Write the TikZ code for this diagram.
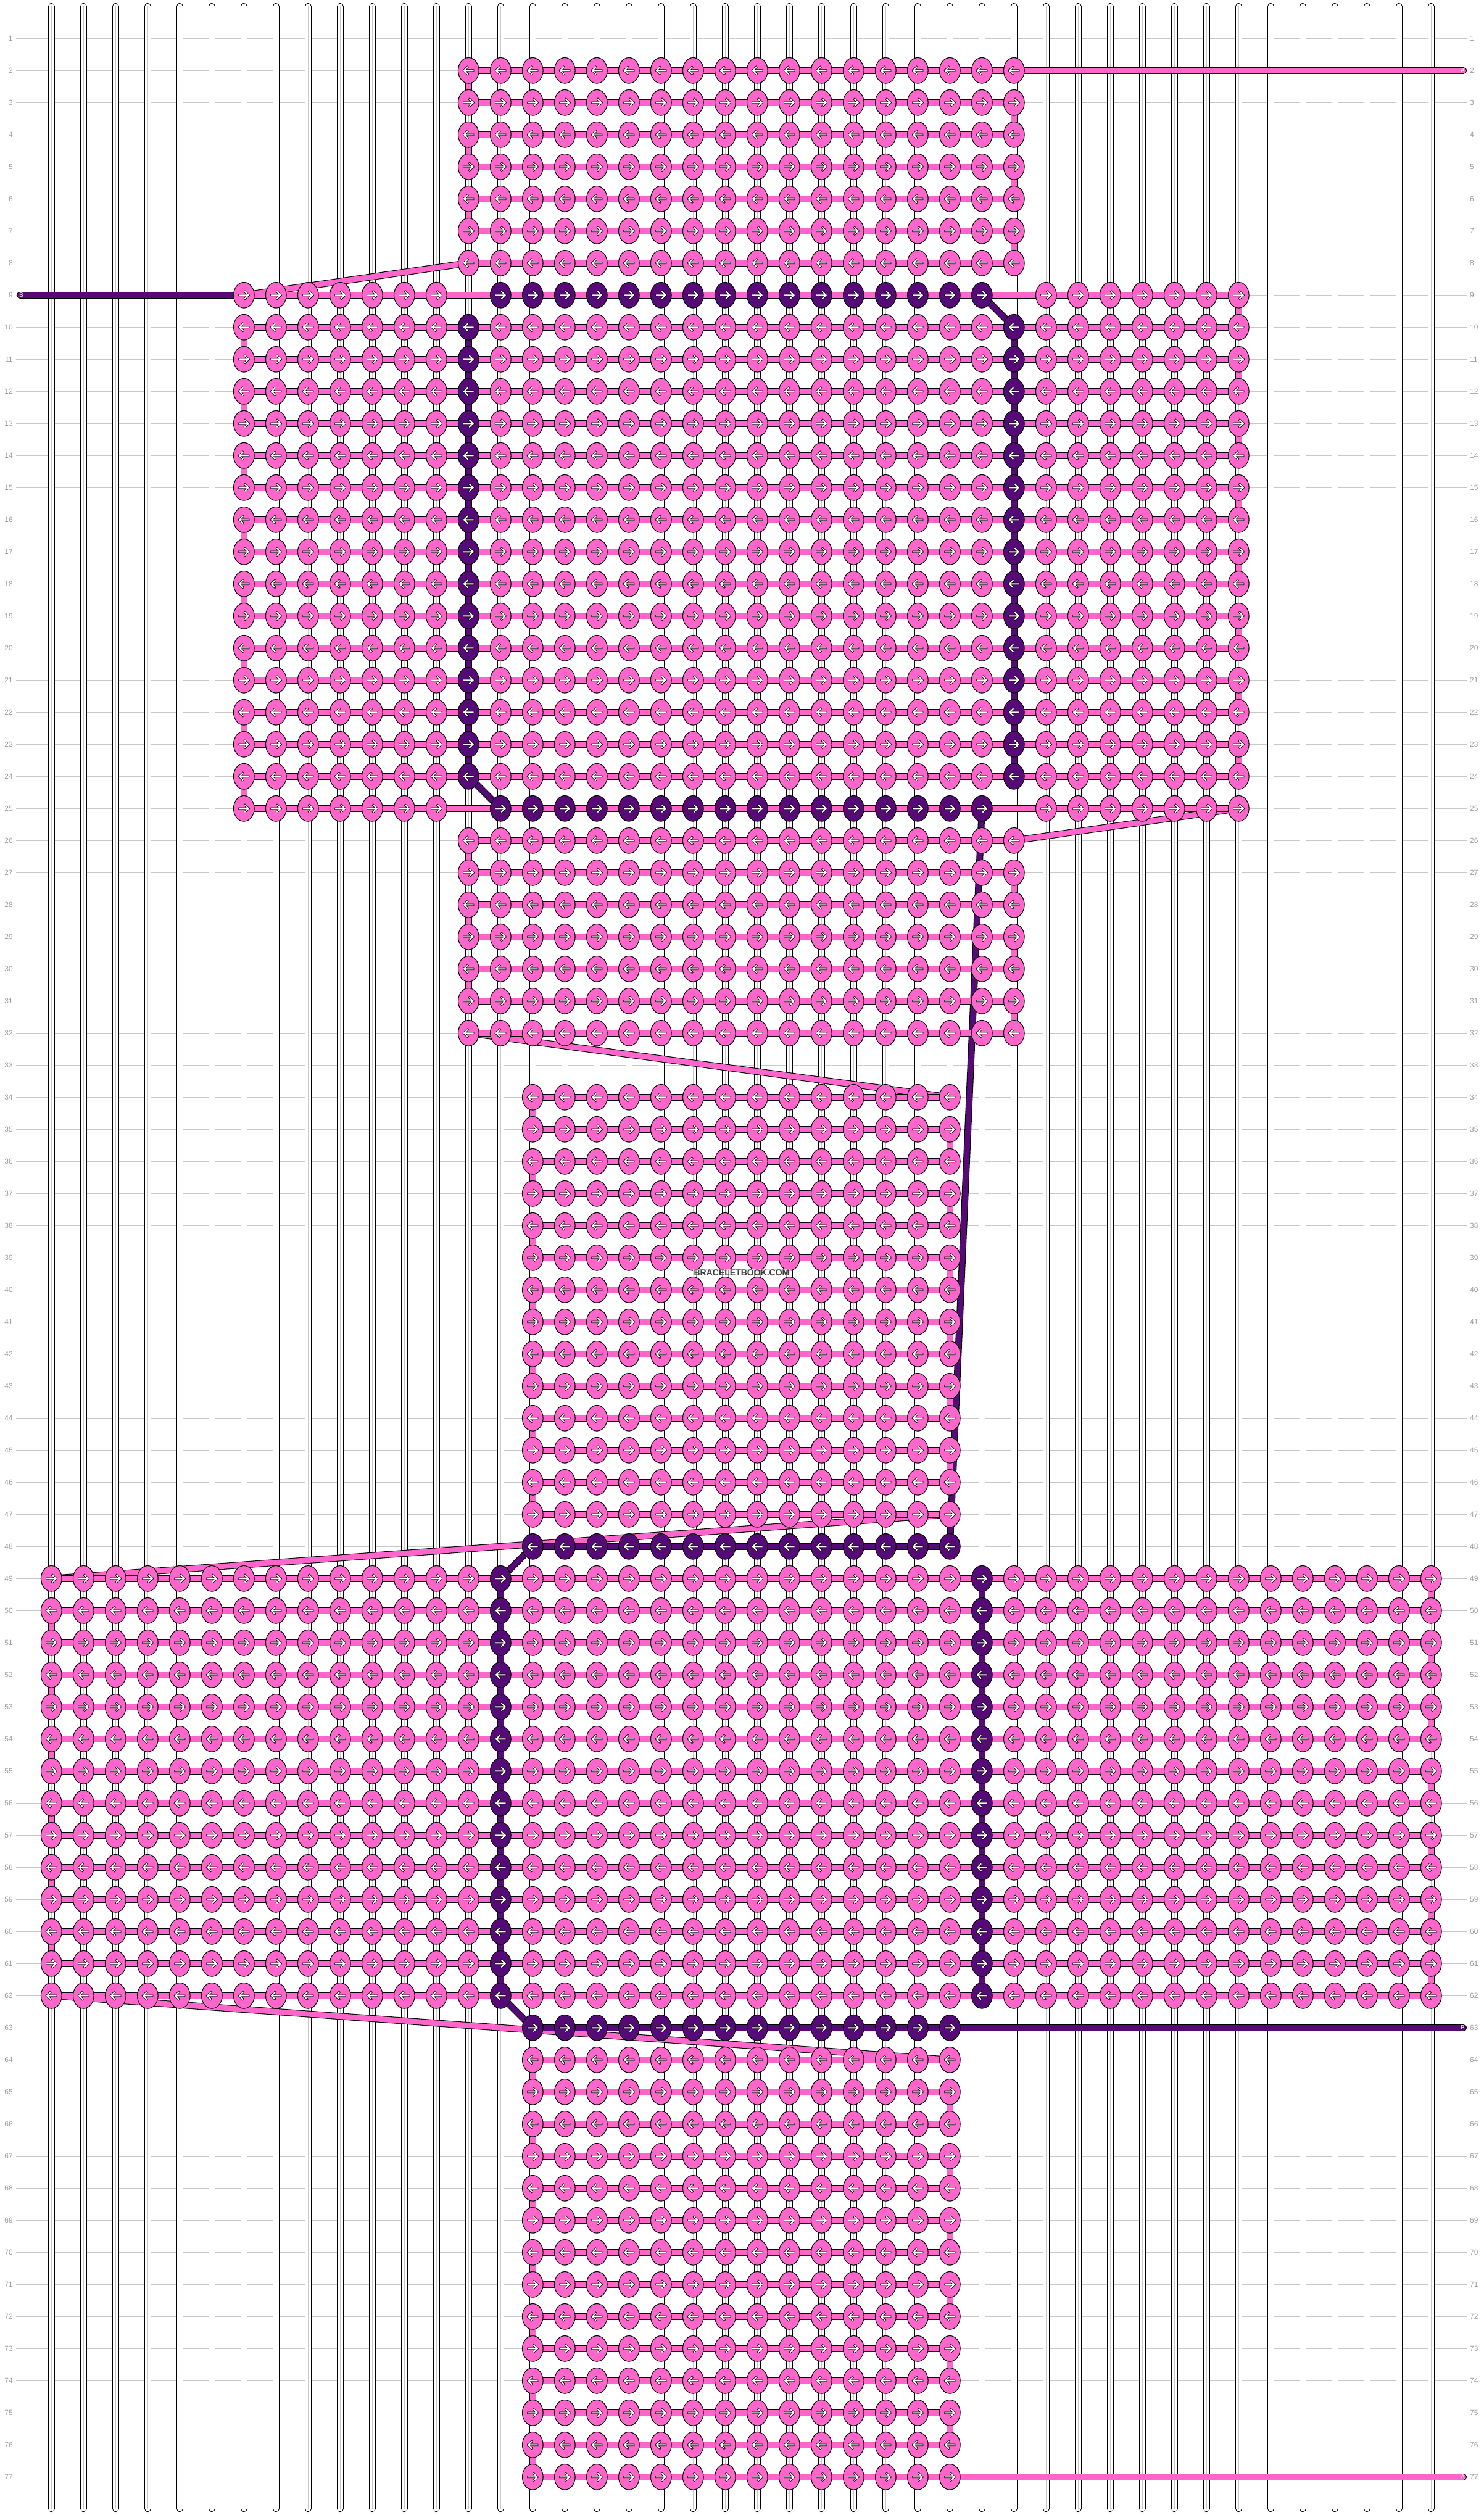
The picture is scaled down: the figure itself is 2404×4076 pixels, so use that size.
\documentclass[tikz,border=0pt]{standalone}
\usepackage{fontspec}
\setmainfont{Liberation Sans}
\definecolor{pk}{HTML}{FF66CC}
\definecolor{pu}{HTML}{560A78}
\definecolor{gl}{HTML}{C8C8C8}
\definecolor{gt}{HTML}{A0A0A0}
\definecolor{wm}{HTML}{3C3C3C}
% grid point of row #1, string #2
\newcommand\gp[2]{({83.3+52*(#2)},{62.3+52*((#1)-1)})}
% one row of knots: row, first string, last string, fill colour
\newcommand\krow[4]{%
  \pgfmathsetmacro\ky{62.3+52*(#1-1)}%
  \pgfmathtruncatemacro\kd{1-2*mod(#1+1,2)}%
  \path[draw=black,line width=1.1pt,fill=#4]
    \foreach \c in {#2,...,#3}{({83.3+52*\c},\ky) ellipse [x radius=16.8, y radius=20.8]};
  \draw[black,line width=3.6pt,line cap=rect,line join=miter,miter limit=3]
    \foreach \c in {#2,...,#3}{({83.3+52*\c-7.2*\kd},\ky) -- ++({14.4*\kd},0)
      ({83.3+52*\c+1.8*\kd},{\ky-5.4}) -- ({83.3+52*\c+7.2*\kd},\ky) -- ({83.3+52*\c+1.8*\kd},{\ky+5.4})};
  \draw[white,line width=2pt,line cap=rect,line join=miter]
    \foreach \c in {#2,...,#3}{({83.3+52*\c-7.2*\kd},\ky) -- ++({14.4*\kd},0)
      ({83.3+52*\c+1.8*\kd},{\ky-5.4}) -- ({83.3+52*\c+7.2*\kd},\ky) -- ({83.3+52*\c+1.8*\kd},{\ky+5.4})};
}
\begin{document}
\begin{tikzpicture}[x=1pt,y=-1pt,
  pbar/.style={draw=black,line width=1.1pt,double=pk,double distance=8.8pt},
  ubar/.style={draw=black,line width=1.1pt,double=pu,double distance=8.8pt},
  strand/.style={draw=black,line width=1.1pt,double=white,double distance=8.8pt,line cap=round},
  rowlab/.style={text=gt,font=\fontsize{12}{12}\selectfont,inner sep=0pt},
  endlab/.style={text=white,font=\fontsize{10}{10}\selectfont,inner sep=0pt}]
\useasboundingbox (0,0) rectangle (2404,4076);
\fill[white] (0,0) rectangle (2404,4076);
% row lines and labels
\foreach \r in {1,...,77}{
  \draw[gl,line width=1.1pt] (26,{62.3+52*(\r-1)}) -- (2378,{62.3+52*(\r-1)});
  \node[rowlab,anchor=east] (ll-\r) at (21,{62.3+52*(\r-1)}) {\r};
  \node[rowlab,anchor=west] (rl-\r) at (2382,{62.3+52*(\r-1)}) {\r};
}
% strings
\foreach \c in {0,...,43}{
  \draw[strand] ({83.3+52*\c},10.5) -- ({83.3+52*\c},4065.5);
  \draw[gl,line width=1.1pt] ({83.3+52*\c},10.5) -- ({83.3+52*\c},4065.5);
}
% end points of the long bars
\coordinate (e2) at (2371.5,114.3);
\coordinate (e9) at (32.5,478.3);
\coordinate (e63) at (2371.5,3286.3);
\coordinate (e77) at (2371.5,4014.3);
% diagonals
\draw[pbar] \gp{8}{13} -- \gp{9}{6};
\draw[pbar] \gp{25}{37} -- \gp{26}{30};
\draw[pbar] \gp{32}{13} -- \gp{34}{28};
\draw[pbar] \gp{47}{28} -- \gp{49}{0};
\draw[pbar] \gp{62}{0} -- \gp{64}{28};
\draw[ubar] \gp{9}{29} -- \gp{10}{30};
\draw[ubar] \gp{24}{13} -- \gp{25}{14};
\draw[ubar] \gp{25}{29} -- \gp{48}{28};
\draw[ubar] \gp{48}{15} -- \gp{49}{14};
\draw[ubar] \gp{62}{14} -- \gp{63}{15};
% row bars and edge connectors
\foreach \ra/\rb/\ca/\cb in {2/8/13/30, 9/25/6/37, 26/32/13/30, 34/47/15/28, 49/62/0/43, 64/77/15/28}{
  \foreach \r in {\ra,...,\rb}{\draw[pbar] \gp{\r}{\ca} -- \gp{\r}{\cb};}
  \pgfmathtruncatemacro\rlast{\rb-1}
  \foreach \r in {\ra,...,\rlast}{
    \ifodd\r \draw[pbar] \gp{\r}{\cb} -- \gp{\r+1}{\cb}; \else \draw[pbar] \gp{\r}{\ca} -- \gp{\r+1}{\ca}; \fi
  }
}
\draw[ubar] \gp{10}{13} -- \gp{24}{13};
\draw[ubar] \gp{10}{30} -- \gp{24}{30};
\draw[ubar] \gp{49}{14} -- \gp{62}{14};
\draw[ubar] \gp{49}{29} -- \gp{62}{29};
\draw[ubar] \gp{48}{15} -- \gp{48}{28};
\draw[ubar,line cap=round] (e9) -- \gp{9}{6};
\draw[ubar,line cap=round] \gp{63}{15} -- (e63);
\draw[pbar,line cap=round] \gp{2}{30} -- (e2);
\draw[pbar,line cap=round] \gp{77}{28} -- (e77);
% knots
\foreach \r in {2,...,8}{\krow{\r}{13}{30}{pk}}
\foreach \r in {9,25}{\krow{\r}{6}{12}{pk}\krow{\r}{14}{29}{pu}\krow{\r}{31}{37}{pk}}
\foreach \r in {10,...,24}{\krow{\r}{6}{12}{pk}\krow{\r}{13}{13}{pu}\krow{\r}{14}{29}{pk}\krow{\r}{30}{30}{pu}\krow{\r}{31}{37}{pk}}
\foreach \r in {26,...,32}{\krow{\r}{13}{30}{pk}}
\foreach \r in {34,...,47}{\krow{\r}{15}{28}{pk}}
\krow{48}{15}{28}{pu}
\foreach \r in {49,...,62}{\krow{\r}{0}{13}{pk}\krow{\r}{14}{14}{pu}\krow{\r}{15}{28}{pk}\krow{\r}{29}{29}{pu}\krow{\r}{30}{43}{pk}}
\krow{63}{15}{28}{pu}
\foreach \r in {64,...,77}{\krow{\r}{15}{28}{pk}}
% string letters
\node[endlab] (la2) at (2370.5,114.3) {A};
\node[endlab] (lb9) at (34.5,478.3) {B};
\node[endlab] (lb63) at (2370.5,3286.3) {B};
\node[endlab] (la77) at (2370.5,4014.3) {A};
% watermark
\node[font=\bfseries\fontsize{14}{14}\selectfont,text=wm,fill=white,fill opacity=0.6,text opacity=1,draw=gray!30,inner sep=1pt] (wmk) at (1202,2063) {BRACELETBOOK.COM};
\end{tikzpicture}
\end{document}
